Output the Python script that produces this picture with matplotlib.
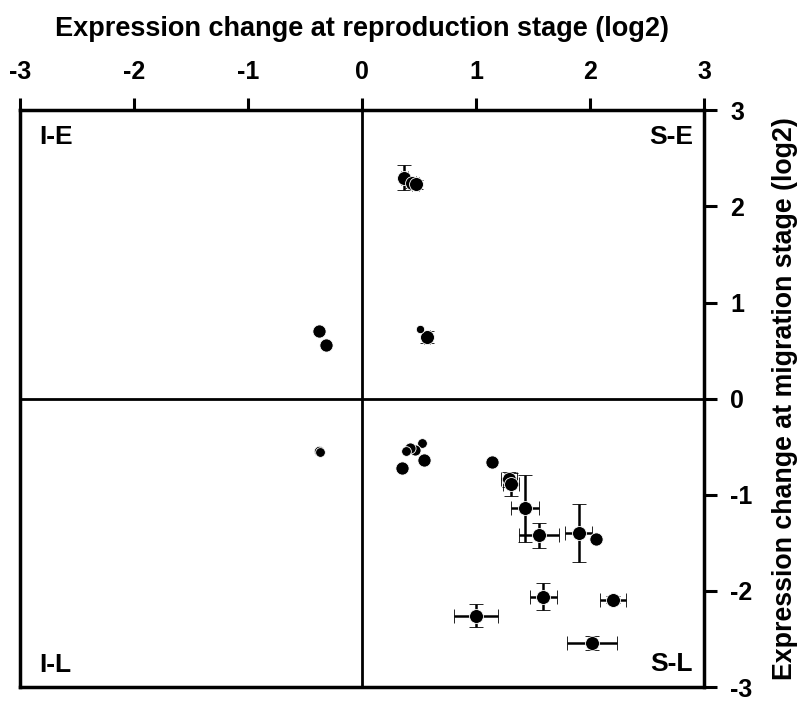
import matplotlib
matplotlib.use("Agg")
import matplotlib.pyplot as plt
import numpy as np

plt.rcParams['font.family'] = ['Liberation Sans', 'DejaVu Sans']
plt.rcParams['font.weight'] = 'bold'
plt.rcParams['axes.unicode_minus'] = False

# Points with error bars: x, y, xerr, yerr
eb_x = [0.37, 0.44, 0.47, 0.57, 1.29, 1.31, 1.43, 1.55, 1.90, 1.59, 2.20, 1.00, 2.02]
eb_y = [2.30, 2.24, 2.23, 0.64, -0.84, -0.89, -1.14, -1.42, -1.40, -2.06, -2.09, -2.26, -2.54]
eb_xerr = [0.03, 0.03, 0.03, 0.03, 0.07, 0.07, 0.12, 0.175, 0.12, 0.12, 0.115, 0.19, 0.22]
eb_yerr = [0.13, 0.05, 0.05, 0.06, 0.08, 0.12, 0.35, 0.13, 0.30, 0.14, 0.04, 0.12, 0.07]

# Points without error bars
pt_x = [-0.375, -0.316, 0.51, -0.38, -0.37, 0.53, 0.465, 0.42, 0.386, 0.54, 0.35, 1.14, 2.05]
pt_y = [0.70, 0.56, 0.73, -0.54, -0.55, -0.46, -0.53, -0.51, -0.54, -0.64, -0.72, -0.66, -1.46]
pt_size = [9.5, 9.5, 6, 7.5, 7, 7, 8, 8, 7, 9.5, 9.5, 9.5, 9.5]

quad_labels = ["I-E", "S-E", "I-L", "S-L"]
xticks = [-3, -2, -1, 0, 1, 2, 3]
yticks = [-3, -2, -1, 0, 1, 2, 3]

fig = plt.figure(figsize=(8.0, 7.12), dpi=100)
ax = fig.add_axes([0.025, 0.035, 0.855, 0.81])

ax.axhline(0, color='black', lw=2, zorder=1)
ax.axvline(0, color='black', lw=2, zorder=1)

ax.errorbar(eb_x, eb_y, xerr=eb_xerr, yerr=eb_yerr, fmt='o', color='black',
            ms=10, mec='white', mew=0.6, ecolor='black', elinewidth=1.8,
            capsize=5, capthick=1.8, zorder=3)
for x, y, s in zip(pt_x, pt_y, pt_size):
    ax.plot([x], [y], 'o', color='black', ms=s, mec='white', mew=0.6, zorder=4)

ax.set_xlim(-3, 3)
ax.set_ylim(-3, 3)
ax.set_xticks(xticks)
ax.set_yticks(yticks)
ax.xaxis.tick_top()
ax.yaxis.tick_right()
ax.xaxis.set_label_position('top')
ax.yaxis.set_label_position('right')
ax.tick_params(axis='both', direction='out', length=9, width=2.2, labelsize=18)
ax.tick_params(axis='x', pad=10)
ax.tick_params(axis='y', pad=10)
for lab in ax.get_xticklabels() + ax.get_yticklabels():
    lab.set_fontweight('bold')
for sp in ax.spines.values():
    sp.set_linewidth(2.5)

ax.set_xlabel("Expression change at reproduction stage (log2)", fontsize=19.5,
              fontweight='bold', labelpad=17)
ax.set_ylabel("Expression change at migration stage (log2)", fontsize=19.3,
              fontweight='bold', labelpad=14, rotation=90)

pos = [(0.028, 0.941, 'left'), (0.984, 0.941, 'right'),
       (0.028, 0.026, 'left'), (0.984, 0.028, 'right')]
for lab, (px, py, ha) in zip(quad_labels, pos):
    ax.text(px, py, lab, transform=ax.transAxes, ha=ha, va='baseline',
            fontsize=19, fontweight='bold')

fig.savefig("out.png", dpi=100)
